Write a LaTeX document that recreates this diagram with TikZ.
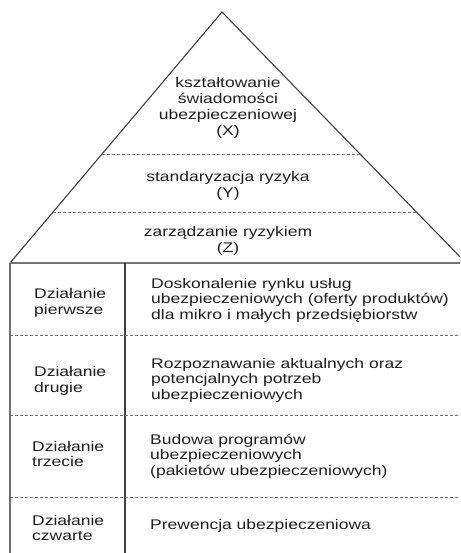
\documentclass[tikz,border=0pt]{standalone}
\usepackage{fontspec}
\setmainfont{Liberation Sans}[FakeStretch=1.25]
\usetikzlibrary{calc}
\begin{document}
\begin{tikzpicture}[x=1pt,y=-1pt,
  solidline/.style={draw=black!75,line width=1.1pt},
  grayline/.style={draw=black!55,line width=1.1pt},
  dotline/.style={draw=black!55,line width=0.9pt,dash pattern=on 2.5pt off 2.5pt},
  txt/.style={font=\fontsize{14}{15.8}\selectfont,text=black!88,inner sep=0pt,align=center},
  ltxt/.style={font=\fontsize{14}{15.4}\selectfont,text=black!88,inner sep=0pt,align=left,anchor=west}]
\useasboundingbox (0,0) rectangle (460,553);
\clip (0,0) rectangle (460,553);
\coordinate (apex) at (222,12);
\coordinate (bl) at (10,263);
\coordinate (br) at (466,263);
\coordinate (tbl) at (10,560);
\coordinate (dt) at (125,263);
\coordinate (db) at (125,560);
% pyramid
\draw[solidline] (bl) -- (apex) -- (br);
\draw[grayline] (bl) -- (br);
\draw[dotline] ($(apex)!0.5657!(bl)$) -- ($(apex)!0.5657!(br)$);
\draw[dotline] ($(apex)!0.797!(bl)$) -- ($(apex)!0.797!(br)$);
% table
\draw[grayline] (bl) -- (tbl);
\draw[solidline] (dt) -- (db);
\foreach \yy/\nm in {335/r1,415/r2,497/r3}{
  \coordinate (\nm a) at (10,\yy);
  \coordinate (\nm b) at (462,\yy);
  \draw[dotline] (\nm a) -- (\nm b);
}
% pyramid texts
\node[txt] (px) at (228,108) {kształtowanie\\świadomości\\ubezpieczeniowej\\(X)};
\node[txt] (py) at (228,186) {standaryzacja ryzyka\\(Y)};
\node[txt] (pz) at (228,241) {zarządzanie ryzykiem\\(Z)};
% table texts
\node[ltxt] (l1) at (34,303) {Działanie\\pierwsze};
\node[ltxt] (t1) at (151,300) {Doskonalenie rynku usług\\ubezpieczeniowych (oferty produktów)\\dla mikro i małych przedsiębiorstw};
\node[ltxt] (l2) at (34,381) {Działanie\\drugie};
\node[ltxt] (t2) at (151,380) {Rozpoznawanie aktualnych oraz\\potencjalnych potrzeb\\ubezpieczeniowych};
\node[ltxt] (l3) at (32,454) {Działanie\\trzecie};
\node[ltxt] (t3) at (150,456) {Budowa programów\\ubezpieczeniowych\\(pakietów ubezpieczeniowych)};
\node[ltxt] (l4) at (32,528) {Działanie\\czwarte};
\node[ltxt] (t4) at (150,526) {Prewencja ubezpieczeniowa};
\end{tikzpicture}
\end{document}
